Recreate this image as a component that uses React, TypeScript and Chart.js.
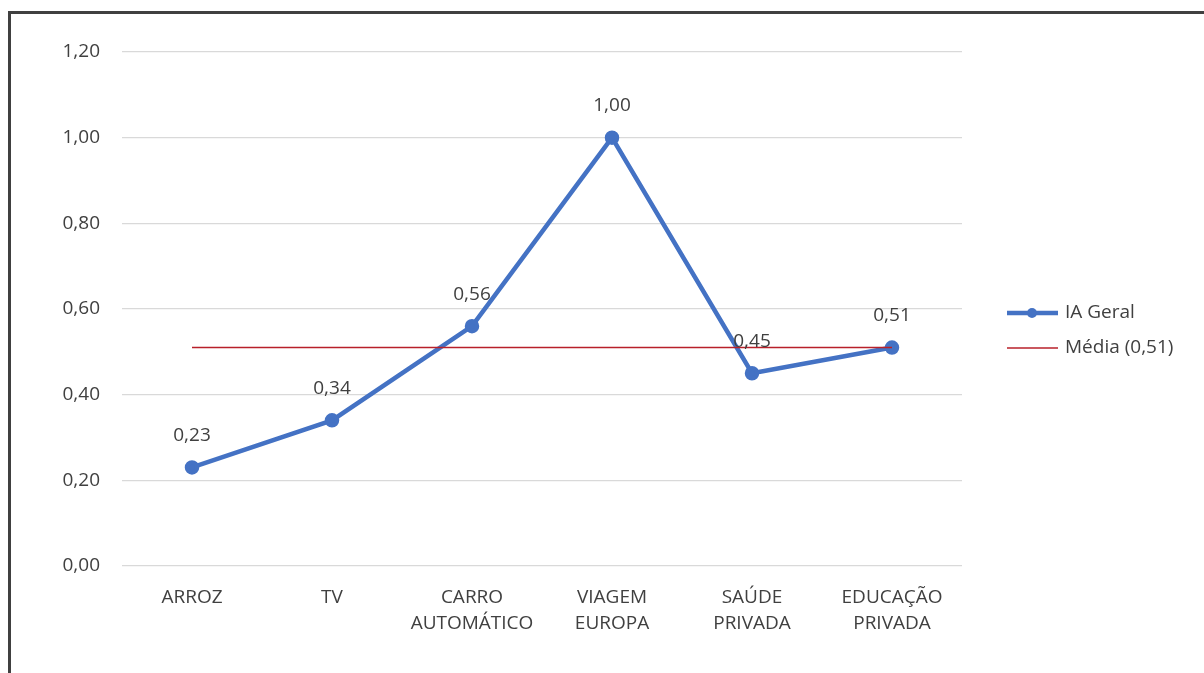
import React, { useEffect, useRef } from "react";
import { Chart, registerables } from "chart.js";

Chart.register(...registerables);

const categories: (string | string[])[] = [
  "ARROZ",
  "TV",
  ["CARRO", "AUTOMÁTICO"],
  ["VIAGEM", "EUROPA"],
  ["SAÚDE", "PRIVADA"],
  ["EDUCAÇÃO", "PRIVADA"],
];
const iaGeral = [0.23, 0.34, 0.56, 1.0, 0.45, 0.51];
const media = [0.51, 0.51, 0.51, 0.51, 0.51, 0.51];
const seriesLabels = ["IA Geral", "Média (0,51)"];
const yTicks = [0, 0.2, 0.4, 0.6, 0.8, 1.0, 1.2];

const BLUE = "#4472C4";
const RED = "#B8202A";
const TEXT = "#404040";
const FONT = "'Open Sans', 'Liberation Sans', sans-serif";
const FS = 19;

const fmt = (v: number) => v.toFixed(2).replace(".", ",");

const labelsPlugin = {
  id: "dataLabels",
  afterDatasetsDraw(chart: any) {
    const ctx = chart.ctx;
    const meta = chart.getDatasetMeta(0);
    ctx.save();
    ctx.font = `${FS}px ${FONT}`;
    ctx.fillStyle = TEXT;
    ctx.textAlign = "center";
    ctx.textBaseline = "middle";
    meta.data.forEach((pt: any, i: number) => {
      ctx.fillText(fmt(iaGeral[i]), pt.x, pt.y - 32);
    });
    ctx.restore();
  },
};

const legendPlugin = {
  id: "customLegend",
  afterDraw(chart: any) {
    const ctx = chart.ctx;
    const x0 = 1007;
    const ys = [313, 348];
    ctx.save();
    ctx.font = `${FS}px ${FONT}`;
    ctx.textBaseline = "middle";
    ctx.textAlign = "left";
    ctx.strokeStyle = BLUE;
    ctx.lineWidth = 4.5;
    ctx.beginPath();
    ctx.moveTo(x0, ys[0]);
    ctx.lineTo(x0 + 51, ys[0]);
    ctx.stroke();
    ctx.fillStyle = BLUE;
    ctx.beginPath();
    ctx.arc(x0 + 25, ys[0], 5, 0, Math.PI * 2);
    ctx.fill();
    ctx.fillStyle = TEXT;
    ctx.fillText(seriesLabels[0], x0 + 58, ys[0]);
    ctx.strokeStyle = RED;
    ctx.lineWidth = 1.5;
    ctx.beginPath();
    ctx.moveTo(x0, ys[1]);
    ctx.lineTo(x0 + 51, ys[1]);
    ctx.stroke();
    ctx.fillStyle = TEXT;
    ctx.fillText(seriesLabels[1], x0 + 58, ys[1]);
    ctx.restore();
  },
};

export default function App() {
  const ref = useRef<HTMLCanvasElement>(null);
  useEffect(() => {
    if (!ref.current) return;
    const chart = new Chart(ref.current, {
      type: "line",
      data: {
        labels: categories as any,
        datasets: [
          {
            label: seriesLabels[0],
            data: iaGeral,
            borderColor: BLUE,
            backgroundColor: BLUE,
            borderWidth: 4.5,
            pointRadius: 5,
            pointHoverRadius: 5,
            pointBackgroundColor: BLUE,
            pointBorderColor: BLUE,
            tension: 0,
            order: 1,
          },
          {
            label: seriesLabels[1],
            data: media,
            borderColor: RED,
            backgroundColor: RED,
            borderWidth: 1.5,
            pointRadius: 0,
            tension: 0,
            order: 0,
          },
        ],
      },
      options: {
        animation: false,
        responsive: false,
        maintainAspectRatio: false,
        layout: { padding: { left: 0, right: 242, top: 52, bottom: 0 } },
        plugins: {
          legend: { display: false },
          tooltip: { enabled: false },
        },
        scales: {
          x: {
            offset: true,
            grid: { display: false, drawTicks: false },
            border: { display: false },
            ticks: {
              color: TEXT,
              font: { family: FONT, size: FS, lineHeight: 1.4 },
              padding: 18,
              maxRotation: 0,
              autoSkip: false,
            },
            afterFit: (s: any) => {
              s.height = 107;
            },
          },
          y: {
            min: 0,
            max: 1.2,
            afterBuildTicks: (s: any) => {
              s.ticks = yTicks.map((v) => ({ value: v }));
            },
            grid: { color: "#D9D9D9", lineWidth: 1.2, drawTicks: false },
            border: { display: false },
            ticks: {
              color: TEXT,
              font: { family: FONT, size: FS },
              padding: 22,
              callback: (v: any) => fmt(Number(v)),
            },
            afterFit: (s: any) => {
              s.width = 122;
            },
          },
        },
      },
      plugins: [labelsPlugin, legendPlugin],
    });
    return () => chart.destroy();
  }, []);

  return (
    <div style={{ position: "absolute", left: 0, top: 0, width: 1204, height: 673, background: "#fff", overflow: "hidden" }}>
      <div
        style={{
          position: "absolute",
          left: 8,
          top: 11,
          width: 1300,
          height: 800,
          borderLeft: "3px solid #404040",
          borderTop: "3px solid #404040",
          boxSizing: "border-box",
        }}
      />
      <canvas ref={ref} width={1204} height={673} style={{ position: "absolute", left: 0, top: 0 }} />
    </div>
  );
}
